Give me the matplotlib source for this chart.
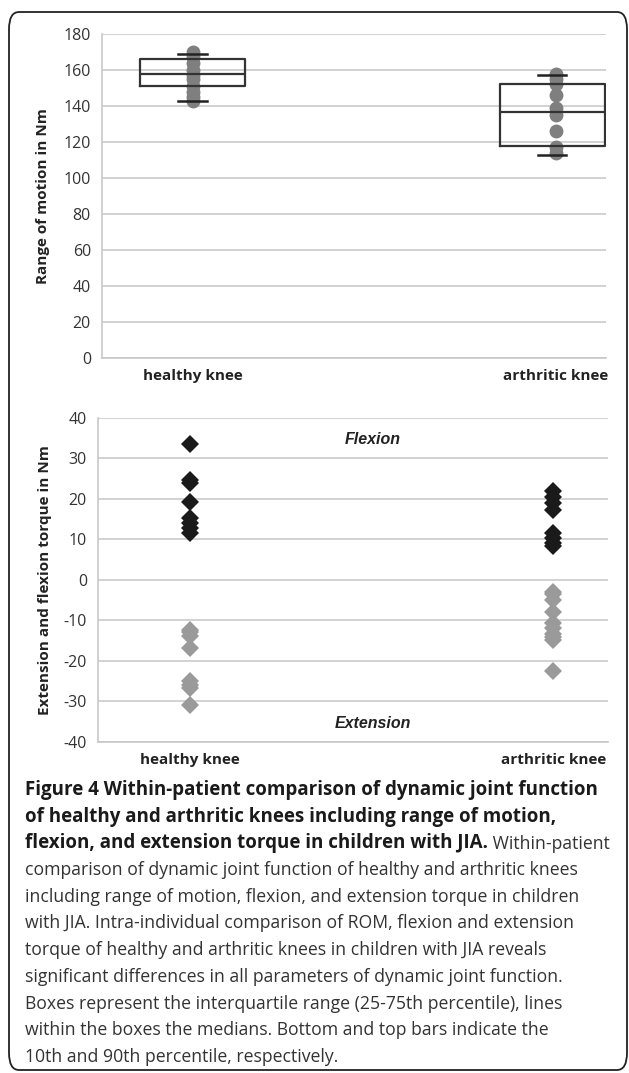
import matplotlib
matplotlib.use("Agg")
import matplotlib.pyplot as plt
from matplotlib.patches import FancyBboxPatch

# ---- data ----
knees = ["healthy knee", "arthritic knee"]

rom_healthy = [170, 167, 164, 160, 157, 155, 151, 148, 145, 143]
rom_arthritic = [158, 155, 152, 146, 139, 135, 126, 117, 114]

# box stats: 10th pct, q1, median, q3, 90th pct
rom_box_healthy = [143, 151, 158, 166, 169]
rom_box_arthritic = [113, 118, 136.7, 152.2, 157.5]

flex_healthy = [33.4, 24.6, 23.8, 19.3, 15.2, 14.0, 12.8, 11.6]
flex_arthritic = [21.9, 20.5, 18.9, 17.2, 11.5, 10.4, 9.0, 8.4]
ext_healthy = [-12.3, -13.0, -13.8, -16.9, -25.0, -26.0, -26.8, -31.0]
ext_arthritic = [-3.0, -3.6, -4.9, -7.9, -10.8, -12.0, -13.3, -14.1, -14.9, -22.6]

W, H = 629, 1073
plt.rcParams["font.family"] = ["Open Sans", "DejaVu Sans"]
plt.rcParams["axes.unicode_minus"] = False

fig = plt.figure(figsize=(W / 100, H / 100), dpi=100)


def px_axes(left, top, right, bottom):
    return fig.add_axes([left / W, 1 - bottom / H, (right - left) / W, (bottom - top) / H])


def style(ax):
    ax.grid(axis="y", color="#d2d2d2", linewidth=1.4)
    ax.set_axisbelow(True)
    for s in ["top", "right"]:
        ax.spines[s].set_visible(False)
    for s in ["left", "bottom"]:
        ax.spines[s].set_color("#c8c8c8")
        ax.spines[s].set_linewidth(1.2)
    ax.tick_params(length=0, labelsize=11.5, colors="#333333", pad=8)
    ax.set_xticks([1, 2])
    ax.set_xticklabels(knees, fontweight="bold", fontsize=11, color="#222222")


# ---- top panel: range of motion ----
ax1 = px_axes(102, 34, 606, 358)
ax1.set_ylim(0, 180)
ax1.set_xlim(0.749, 2.138)
ax1.set_yticks(range(0, 181, 20))
style(ax1)
ax1.set_ylabel("Range of motion in Nm", fontweight="bold", fontsize=11, color="#222222", labelpad=10)

ax1.scatter([1] * len(rom_healthy), rom_healthy, s=100, color="#7f7f7f", zorder=2, linewidths=0)
ax1.scatter([2] * len(rom_arthritic), rom_arthritic, s=100, color="#7f7f7f", zorder=2, linewidths=0)

stats = []
for st, lab in zip([rom_box_healthy, rom_box_arthritic], knees):
    stats.append(dict(whislo=st[0], q1=st[1], med=st[2], q3=st[3], whishi=st[4], label=lab))
ax1.bxp(stats, positions=[0.998, 1.99], widths=0.29, showfliers=False, capwidths=0.078,
        boxprops=dict(color="#333333", linewidth=1.6),
        medianprops=dict(color="#333333", linewidth=1.6),
        whiskerprops=dict(linewidth=0),
        capprops=dict(color="#222222", linewidth=1.8),
        zorder=3, manage_ticks=False)

# ---- bottom panel: flexion / extension torque ----
ax2 = px_axes(98, 417.7, 608, 741.7)
ax2.set_ylim(-40, 40)
ax2.set_xlim(0.747, 2.150)
ax2.set_yticks(range(-40, 41, 10))
style(ax2)
ax2.set_ylabel("Extension and flexion torque in Nm", fontweight="bold", fontsize=11,
               color="#222222", labelpad=8)

ax2.plot([1] * len(flex_healthy), flex_healthy, "D", ms=9, color="#1a1a1a", mew=0, zorder=3)
ax2.plot([2] * len(flex_arthritic), flex_arthritic, "D", ms=9, color="#1a1a1a", mew=0, zorder=3)
ax2.plot([1] * len(ext_healthy), ext_healthy, "D", ms=9, color="#9a9a9a", mew=0, zorder=3)
ax2.plot([2] * len(ext_arthritic), ext_arthritic, "D", ms=9, color="#9a9a9a", mew=0, zorder=3)

ax2.text(1.503, 34.7, "Flexion", ha="center", va="center", fontsize=11.5, fontweight="bold",
         fontstyle="italic", family=["Liberation Sans", "DejaVu Sans"], color="#222222")
ax2.text(1.503, -35.6, "Extension", ha="center", va="center", fontsize=11.5, fontweight="bold",
         fontstyle="italic", family=["Liberation Sans", "DejaVu Sans"], color="#222222")

# ---- caption ----
bold_lines = [
    "Figure 4 Within-patient comparison of dynamic joint function",
    "of healthy and arthritic knees including range of motion,",
    "flexion, and extension torque in children with JIA.",
]
plain_lines = [
    "comparison of dynamic joint function of healthy and arthritic knees",
    "including range of motion, flexion, and extension torque in children",
    "with JIA. Intra-individual comparison of ROM, flexion and extension",
    "torque of healthy and arthritic knees in children with JIA reveals",
    "significant differences in all parameters of dynamic joint function.",
    "Boxes represent the interquartile range (25-75th percentile), lines",
    "within the boxes the medians. Bottom and top bars indicate the",
    "10th and 90th percentile, respectively.",
]
cap_x = 25 / W
y0 = 790
step = 26.7
fs_bold = 13.5
fs_plain = 12.7
last = None
for i, line in enumerate(bold_lines):
    last = fig.text(cap_x, 1 - (y0 + i * step) / H, line, fontsize=fs_bold, fontweight="bold",
                    color="#1a1a1a", va="center")
fig.add_artist(plt.Annotation(" Within-patient", xy=(1, 0), xycoords=last, va="bottom",
                              fontsize=fs_plain, color="#333333"))
for j, line in enumerate(plain_lines):
    fig.text(cap_x, 1 - (y0 + (j + 3) * step) / H, line, fontsize=fs_plain, color="#333333",
             va="center")

# rounded frame
frame = FancyBboxPatch((9 / W, 1 - 1070 / H), 618 / W, 1058 / H,
                       boxstyle="round,pad=0,rounding_size=0.016", transform=fig.transFigure,
                       fill=False, edgecolor="#222222", linewidth=1.3)
fig.add_artist(frame)

fig.savefig("out.png", dpi=100)
